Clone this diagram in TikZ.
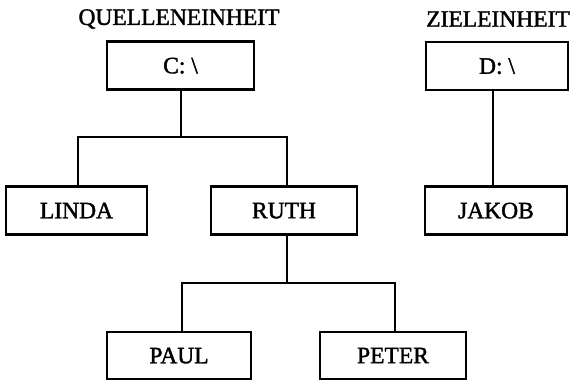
\documentclass[tikz,border=0pt]{standalone}
\usepackage{fontspec}
\setmainfont{Liberation Serif}[BoldFont=Liberation Serif,BoldFeatures={FakeBold=1.6}]
\begin{document}
\begin{tikzpicture}[x=1pt,y=-1pt,
  every node/.style={font=\fontsize{23.5}{26}\selectfont\bfseries},
  dirbox/.style={draw,line width=2.2pt,inner sep=0pt,minimum height=48pt,text depth=0pt},
  conn/.style={line width=2pt}]
\useasboundingbox (0,0) rectangle (575,382);
\node (q) at (179,19) {QUELLENEINHEIT};
\node (z) at (498,19) {ZIELEINHEIT};
\node[dirbox,minimum width=147pt] (c) at (180.5,65.5) {C: \textbackslash};
\node[dirbox,minimum width=142pt] (d) at (497,66) {D: \textbackslash};
\node[dirbox,minimum width=141pt] (l) at (76.5,210.5) {LINDA};
\node[dirbox,minimum width=146pt] (r) at (284,210.5) {RUTH};
\node[dirbox,minimum width=142pt] (j) at (496,210.5) {JAKOB};
\node[dirbox,minimum width=144pt,minimum height=47pt] (pa) at (179,355.5) {PAUL};
\node[dirbox,minimum width=146pt,minimum height=47pt] (pe) at (393,355.5) {PETER};
\coordinate (j1) at (181,137);
\coordinate (j2) at (287,283);
\draw[conn] (c.south -| j1) -- (j1);
\draw[conn] (j1) -| ([xshift=1.5pt]l.north);
\draw[conn] (j1) -| ([xshift=3pt]r.north);
\draw[conn] (r.south -| j2) -- (j2);
\draw[conn] (j2) -| ([xshift=3pt]pa.north);
\draw[conn] (j2) -| ([xshift=2pt]pe.north);
\draw[conn] ([xshift=-4pt]d.south) -- ([xshift=-3pt]j.north);
\end{tikzpicture}
\end{document}
